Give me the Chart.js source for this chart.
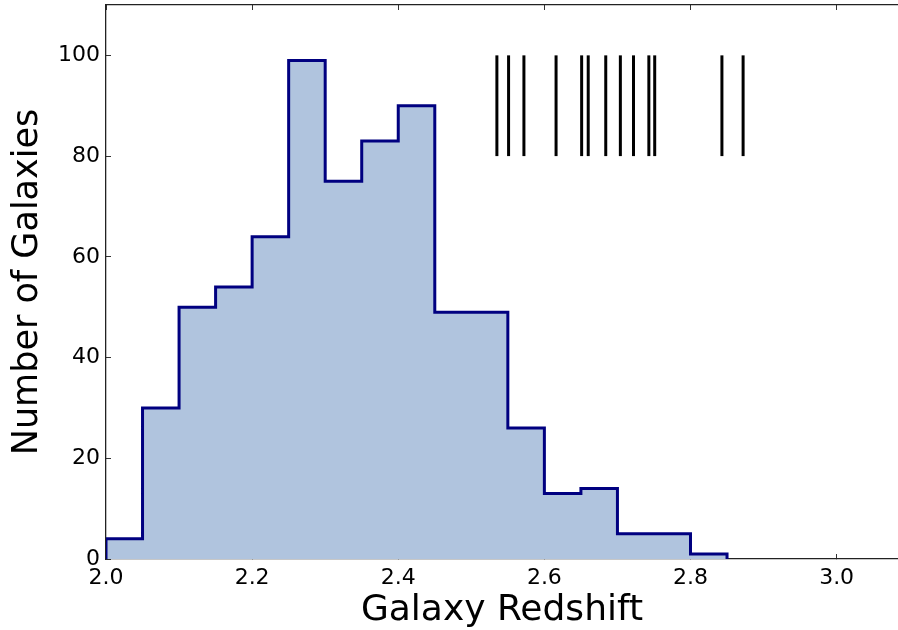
<!DOCTYPE html>
<html>
<head>
<meta charset="utf-8">
<script src="https://cdn.jsdelivr.net/npm/chart.js@4"></script>
<style>
  body { margin: 0; background: #fff; }
  canvas { display: block; }
</style>
</head>
<body>
<canvas id="myChart" width="898" height="630"></canvas>
<script>
// histogram bins (left edges, width 0.05) and counts
var binEdges = [2.0, 2.05, 2.1, 2.15, 2.2, 2.25, 2.3, 2.35, 2.4, 2.45, 2.5, 2.55, 2.6, 2.65, 2.7, 2.75, 2.8, 2.85];
var counts = [4, 30, 50, 54, 64, 99, 75, 83, 90, 49, 49, 26, 13, 14, 5, 5, 1];

// redshifts marked with vertical bars at the top
var markerZ = [2.535, 2.551, 2.572, 2.616, 2.651, 2.66, 2.684, 2.704, 2.722, 2.743, 2.751, 2.843, 2.872];
var markerLow = 80;
var markerHigh = 100;

var xTicks = [2.0, 2.2, 2.4, 2.6, 2.8, 3.0];
var yTicks = [0, 20, 40, 60, 80, 100];

var font = "'DejaVu Sans', sans-serif";

// step outline: start at the baseline, one point per right bin edge, back to baseline
var histPoints = [{ x: binEdges[0], y: 0 }];
counts.forEach(function (c, i) {
  histPoints.push({ x: binEdges[i + 1], y: c });
});
histPoints.push({ x: binEdges[binEdges.length - 1], y: 0 });

var datasets = [{
  data: histPoints,
  stepped: "after",
  borderColor: "#000080",
  borderWidth: 3,
  backgroundColor: "#B0C4DE",
  fill: "origin",
  pointRadius: 0,
  borderJoinStyle: "miter"
}];

markerZ.forEach(function (z) {
  datasets.push({
    data: [{ x: z, y: markerLow }, { x: z, y: markerHigh }],
    borderColor: "#000",
    borderWidth: 3,
    borderCapStyle: "butt",
    pointRadius: 0,
    fill: false
  });
});

var tickGrid = {
  drawOnChartArea: false,
  drawTicks: true,
  tickLength: -5,
  color: "#333"
};

new Chart("myChart", {
  type: "line",
  data: { datasets: datasets },
  options: {
    responsive: false,
    animation: false,
    layout: { padding: { top: 5, right: 0, left: 0, bottom: 0 } },
    plugins: { legend: { display: false }, tooltip: { enabled: false } },
    scales: {
      x: {
        type: "linear",
        min: 2.0,
        max: 3.084,
        afterBuildTicks: function (s) { s.ticks = xTicks.map(function (v) { return { value: v }; }); },
        afterFit: function (s) { s.height = 71; },
        grid: tickGrid,
        border: { display: true, color: "#222", width: 1.3 },
        ticks: {
          color: "#000",
          padding: 11,
          maxRotation: 0,
          font: { family: font, size: 22 },
          callback: function (v) { return v.toFixed(1); }
        },
        title: {
          display: true,
          text: "Galaxy Redshift",
          color: "#000",
          font: { family: font, size: 36, lineHeight: 1 },
          padding: { top: 0, bottom: 1 }
        }
      },
      xTop: {
        type: "linear",
        position: "top",
        min: 2.0,
        max: 3.084,
        afterBuildTicks: function (s) { s.ticks = xTicks.map(function (v) { return { value: v }; }); },
        afterFit: function (s) { s.height = 0; s.paddingLeft = 0; s.paddingRight = 0; },
        grid: tickGrid,
        border: { display: true, color: "#222", width: 1.3 },
        ticks: { display: false }
      },
      y: {
        min: 0,
        max: 110,
        afterBuildTicks: function (s) { s.ticks = yTicks.map(function (v) { return { value: v }; }); },
        afterFit: function (s) { s.width = 106; s.paddingTop = 0; s.paddingBottom = 0; },
        grid: tickGrid,
        border: { display: true, color: "#222", width: 1.3 },
        ticks: {
          color: "#000",
          padding: 11,
          font: { family: font, size: 22 }
        },
        title: {
          display: true,
          text: "Number of Galaxies",
          color: "#000",
          font: { family: font, size: 35, lineHeight: 1 },
          padding: { top: 10, bottom: 0 }
        }
      }
    }
  }
});
</script>
</body>
</html>
